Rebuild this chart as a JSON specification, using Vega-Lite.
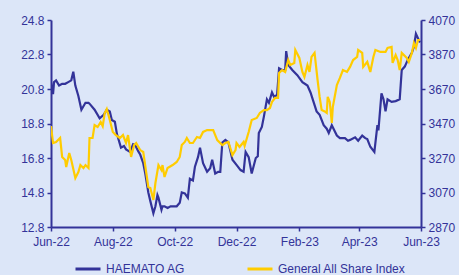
{
  "$schema": "https://vega.github.io/schema/vega-lite/v6.json",
  "width": 370,
  "height": 207,
  "autosize": {"type": "none"},
  "padding": {"left": 51, "top": 20, "right": 38, "bottom": 48},
  "background": "#DCE6F8",
  "config": {
    "view": {"stroke": null},
    "font": "Liberation Sans",
    "axis": {
      "domainColor": "#333399",
      "domainWidth": 2,
      "tickColor": "#333399",
      "tickWidth": 1.5,
      "tickSize": 4,
      "labelColor": "#333399",
      "labelFontSize": 12,
      "labelFont": "Liberation Sans",
      "grid": false,
      "title": null
    },
    "legend": {
      "labelColor": "#333399",
      "labelFontSize": 12,
      "labelFont": "Liberation Sans"
    }
  },
  "datasets": {
    "haemato": [
      {"date": "2022-06-01", "price": 21.2},
      {"date": "2022-06-03", "price": 20.5},
      {"date": "2022-06-04", "price": 21.2},
      {"date": "2022-06-06", "price": 21.3},
      {"date": "2022-06-09", "price": 21.0},
      {"date": "2022-06-12", "price": 21.1},
      {"date": "2022-06-15", "price": 21.1},
      {"date": "2022-06-18", "price": 21.2},
      {"date": "2022-06-21", "price": 21.3},
      {"date": "2022-06-23", "price": 21.8},
      {"date": "2022-06-25", "price": 21.0},
      {"date": "2022-06-28", "price": 20.4},
      {"date": "2022-07-01", "price": 19.6},
      {"date": "2022-07-05", "price": 20.0},
      {"date": "2022-07-08", "price": 20.0},
      {"date": "2022-07-09", "price": 19.95},
      {"date": "2022-07-14", "price": 19.6},
      {"date": "2022-07-19", "price": 19.1},
      {"date": "2022-07-23", "price": 19.3},
      {"date": "2022-07-26", "price": 19.6},
      {"date": "2022-07-29", "price": 19.5},
      {"date": "2022-07-31", "price": 19.0},
      {"date": "2022-08-03", "price": 18.9},
      {"date": "2022-08-05", "price": 18.2},
      {"date": "2022-08-09", "price": 17.4},
      {"date": "2022-08-12", "price": 17.5},
      {"date": "2022-08-14", "price": 17.3},
      {"date": "2022-08-18", "price": 17.15},
      {"date": "2022-08-21", "price": 17.6},
      {"date": "2022-08-23", "price": 17.55},
      {"date": "2022-08-26", "price": 17.2},
      {"date": "2022-08-28", "price": 17.0},
      {"date": "2022-08-31", "price": 16.5},
      {"date": "2022-09-02", "price": 15.9},
      {"date": "2022-09-05", "price": 14.8},
      {"date": "2022-09-07", "price": 14.3},
      {"date": "2022-09-10", "price": 13.6},
      {"date": "2022-09-12", "price": 14.0},
      {"date": "2022-09-14", "price": 14.65},
      {"date": "2022-09-15", "price": 14.5},
      {"date": "2022-09-18", "price": 13.8},
      {"date": "2022-09-19", "price": 14.0},
      {"date": "2022-09-21", "price": 14.0},
      {"date": "2022-09-24", "price": 13.9},
      {"date": "2022-09-27", "price": 14.0},
      {"date": "2022-09-30", "price": 14.0},
      {"date": "2022-10-03", "price": 14.0},
      {"date": "2022-10-06", "price": 14.2},
      {"date": "2022-10-08", "price": 14.8},
      {"date": "2022-10-11", "price": 14.75},
      {"date": "2022-10-14", "price": 14.5},
      {"date": "2022-10-16", "price": 15.6},
      {"date": "2022-10-19", "price": 15.5},
      {"date": "2022-10-21", "price": 16.3},
      {"date": "2022-10-24", "price": 16.85},
      {"date": "2022-10-26", "price": 17.4},
      {"date": "2022-10-29", "price": 16.5},
      {"date": "2022-11-02", "price": 16.0},
      {"date": "2022-11-05", "price": 16.2},
      {"date": "2022-11-07", "price": 16.7},
      {"date": "2022-11-10", "price": 15.9},
      {"date": "2022-11-13", "price": 16.0},
      {"date": "2022-11-15", "price": 16.0},
      {"date": "2022-11-17", "price": 17.7},
      {"date": "2022-11-20", "price": 17.85},
      {"date": "2022-11-23", "price": 17.7},
      {"date": "2022-11-27", "price": 16.7},
      {"date": "2022-12-01", "price": 16.4},
      {"date": "2022-12-05", "price": 16.1},
      {"date": "2022-12-08", "price": 16.0},
      {"date": "2022-12-10", "price": 17.15},
      {"date": "2022-12-13", "price": 16.85},
      {"date": "2022-12-16", "price": 15.9},
      {"date": "2022-12-20", "price": 16.8},
      {"date": "2022-12-22", "price": 16.9},
      {"date": "2022-12-23", "price": 18.25},
      {"date": "2022-12-26", "price": 18.6},
      {"date": "2022-12-28", "price": 19.2},
      {"date": "2022-12-31", "price": 20.2},
      {"date": "2023-01-02", "price": 20.0},
      {"date": "2023-01-05", "price": 20.6},
      {"date": "2023-01-07", "price": 20.35},
      {"date": "2023-01-10", "price": 20.45},
      {"date": "2023-01-12", "price": 22.0},
      {"date": "2023-01-15", "price": 21.9},
      {"date": "2023-01-18", "price": 21.9},
      {"date": "2023-01-19", "price": 23.0},
      {"date": "2023-01-21", "price": 22.2},
      {"date": "2023-01-25", "price": 21.9},
      {"date": "2023-01-30", "price": 21.6},
      {"date": "2023-02-04", "price": 21.2},
      {"date": "2023-02-09", "price": 21.0},
      {"date": "2023-02-12", "price": 20.6},
      {"date": "2023-02-15", "price": 20.05},
      {"date": "2023-02-18", "price": 19.5},
      {"date": "2023-02-21", "price": 19.3},
      {"date": "2023-02-25", "price": 18.7},
      {"date": "2023-02-28", "price": 18.5},
      {"date": "2023-03-02", "price": 18.25},
      {"date": "2023-03-05", "price": 18.7},
      {"date": "2023-03-10", "price": 18.1},
      {"date": "2023-03-13", "price": 17.95},
      {"date": "2023-03-18", "price": 17.95},
      {"date": "2023-03-21", "price": 17.8},
      {"date": "2023-03-23", "price": 17.85},
      {"date": "2023-03-28", "price": 18.0},
      {"date": "2023-03-31", "price": 17.8},
      {"date": "2023-04-04", "price": 18.1},
      {"date": "2023-04-07", "price": 17.95},
      {"date": "2023-04-09", "price": 17.9},
      {"date": "2023-04-12", "price": 17.45},
      {"date": "2023-04-16", "price": 17.15},
      {"date": "2023-04-19", "price": 18.7},
      {"date": "2023-04-20", "price": 18.4},
      {"date": "2023-04-23", "price": 20.55},
      {"date": "2023-04-25", "price": 20.2},
      {"date": "2023-04-27", "price": 19.5},
      {"date": "2023-04-29", "price": 20.2},
      {"date": "2023-05-03", "price": 20.05},
      {"date": "2023-05-07", "price": 20.1},
      {"date": "2023-05-11", "price": 20.2},
      {"date": "2023-05-13", "price": 21.9},
      {"date": "2023-05-16", "price": 22.1},
      {"date": "2023-05-19", "price": 22.5},
      {"date": "2023-05-23", "price": 22.9},
      {"date": "2023-05-25", "price": 23.25},
      {"date": "2023-05-27", "price": 24.0},
      {"date": "2023-05-29", "price": 23.75},
      {"date": "2023-05-31", "price": 23.5}
    ],
    "gasi": [
      {"date": "2022-06-01", "index": 3455},
      {"date": "2022-06-03", "index": 3357},
      {"date": "2022-06-06", "index": 3363},
      {"date": "2022-06-10", "index": 3386},
      {"date": "2022-06-12", "index": 3276},
      {"date": "2022-06-15", "index": 3258},
      {"date": "2022-06-16", "index": 3218},
      {"date": "2022-06-19", "index": 3299},
      {"date": "2022-06-21", "index": 3258},
      {"date": "2022-06-25", "index": 3154},
      {"date": "2022-06-28", "index": 3189},
      {"date": "2022-06-30", "index": 3229},
      {"date": "2022-07-03", "index": 3212},
      {"date": "2022-07-05", "index": 3229},
      {"date": "2022-07-08", "index": 3212},
      {"date": "2022-07-09", "index": 3386},
      {"date": "2022-07-12", "index": 3386},
      {"date": "2022-07-14", "index": 3461},
      {"date": "2022-07-17", "index": 3450},
      {"date": "2022-07-20", "index": 3479},
      {"date": "2022-07-22", "index": 3455},
      {"date": "2022-07-24", "index": 3531},
      {"date": "2022-07-26", "index": 3554},
      {"date": "2022-07-29", "index": 3490},
      {"date": "2022-08-01", "index": 3421},
      {"date": "2022-08-04", "index": 3403},
      {"date": "2022-08-08", "index": 3386},
      {"date": "2022-08-11", "index": 3403},
      {"date": "2022-08-14", "index": 3357},
      {"date": "2022-08-16", "index": 3403},
      {"date": "2022-08-19", "index": 3276},
      {"date": "2022-08-22", "index": 3345},
      {"date": "2022-08-24", "index": 3357},
      {"date": "2022-08-28", "index": 3316},
      {"date": "2022-08-31", "index": 3305},
      {"date": "2022-09-03", "index": 3183},
      {"date": "2022-09-05", "index": 3102},
      {"date": "2022-09-07", "index": 3096},
      {"date": "2022-09-10", "index": 3027},
      {"date": "2022-09-12", "index": 3125},
      {"date": "2022-09-15", "index": 3229},
      {"date": "2022-09-18", "index": 3200},
      {"date": "2022-09-19", "index": 3229},
      {"date": "2022-09-21", "index": 3160},
      {"date": "2022-09-24", "index": 3212},
      {"date": "2022-09-29", "index": 3229},
      {"date": "2022-10-03", "index": 3247},
      {"date": "2022-10-06", "index": 3276},
      {"date": "2022-10-08", "index": 3345},
      {"date": "2022-10-11", "index": 3363},
      {"date": "2022-10-13", "index": 3386},
      {"date": "2022-10-16", "index": 3357},
      {"date": "2022-10-19", "index": 3357},
      {"date": "2022-10-23", "index": 3392},
      {"date": "2022-10-26", "index": 3386},
      {"date": "2022-10-29", "index": 3421},
      {"date": "2022-11-02", "index": 3432},
      {"date": "2022-11-05", "index": 3432},
      {"date": "2022-11-08", "index": 3432},
      {"date": "2022-11-12", "index": 3374},
      {"date": "2022-11-17", "index": 3345},
      {"date": "2022-11-20", "index": 3357},
      {"date": "2022-11-23", "index": 3363},
      {"date": "2022-11-27", "index": 3287},
      {"date": "2022-11-30", "index": 3316},
      {"date": "2022-12-01", "index": 3357},
      {"date": "2022-12-04", "index": 3334},
      {"date": "2022-12-08", "index": 3363},
      {"date": "2022-12-09", "index": 3340},
      {"date": "2022-12-13", "index": 3421},
      {"date": "2022-12-16", "index": 3490},
      {"date": "2022-12-21", "index": 3502},
      {"date": "2022-12-24", "index": 3531},
      {"date": "2022-12-28", "index": 3548},
      {"date": "2022-12-31", "index": 3548},
      {"date": "2023-01-03", "index": 3560},
      {"date": "2023-01-05", "index": 3595},
      {"date": "2023-01-08", "index": 3618},
      {"date": "2023-01-11", "index": 3618},
      {"date": "2023-01-12", "index": 3763},
      {"date": "2023-01-15", "index": 3780},
      {"date": "2023-01-18", "index": 3769},
      {"date": "2023-01-21", "index": 3838},
      {"date": "2023-01-23", "index": 3809},
      {"date": "2023-01-27", "index": 3821},
      {"date": "2023-01-28", "index": 3896},
      {"date": "2023-02-01", "index": 3850},
      {"date": "2023-02-04", "index": 3769},
      {"date": "2023-02-06", "index": 3740},
      {"date": "2023-02-09", "index": 3809},
      {"date": "2023-02-11", "index": 3769},
      {"date": "2023-02-13", "index": 3856},
      {"date": "2023-02-16", "index": 3879},
      {"date": "2023-02-19", "index": 3722},
      {"date": "2023-02-21", "index": 3624},
      {"date": "2023-02-23", "index": 3548},
      {"date": "2023-02-26", "index": 3540},
      {"date": "2023-02-28", "index": 3531},
      {"date": "2023-03-01", "index": 3624},
      {"date": "2023-03-03", "index": 3595},
      {"date": "2023-03-05", "index": 3473},
      {"date": "2023-03-06", "index": 3566},
      {"date": "2023-03-10", "index": 3693},
      {"date": "2023-03-13", "index": 3734},
      {"date": "2023-03-16", "index": 3780},
      {"date": "2023-03-20", "index": 3769},
      {"date": "2023-03-23", "index": 3798},
      {"date": "2023-03-26", "index": 3838},
      {"date": "2023-03-30", "index": 3856},
      {"date": "2023-03-31", "index": 3896},
      {"date": "2023-04-04", "index": 3879},
      {"date": "2023-04-05", "index": 3798},
      {"date": "2023-04-09", "index": 3827},
      {"date": "2023-04-12", "index": 3769},
      {"date": "2023-04-15", "index": 3856},
      {"date": "2023-04-17", "index": 3896},
      {"date": "2023-04-22", "index": 3885},
      {"date": "2023-04-27", "index": 3885},
      {"date": "2023-04-29", "index": 3908},
      {"date": "2023-05-03", "index": 3914},
      {"date": "2023-05-04", "index": 3821},
      {"date": "2023-05-07", "index": 3867},
      {"date": "2023-05-09", "index": 3838},
      {"date": "2023-05-11", "index": 3780},
      {"date": "2023-05-13", "index": 3879},
      {"date": "2023-05-18", "index": 3850},
      {"date": "2023-05-20", "index": 3827},
      {"date": "2023-05-23", "index": 3879},
      {"date": "2023-05-25", "index": 3937},
      {"date": "2023-05-27", "index": 3908},
      {"date": "2023-05-29", "index": 3954},
      {"date": "2023-05-31", "index": 3954}
    ]
  },
  "layer": [
    {
      "data": {"name": "haemato"},
      "mark": {"type": "line", "strokeWidth": 2.2, "clip": true},
      "encoding": {
        "x": {
          "field": "date",
          "type": "temporal",
          "scale": {
            "type": "utc",
            "domain": [
              {"year": 2022, "month": 6, "date": 1, "utc": true},
              {"year": 2023, "month": 6, "date": 1, "utc": true}
            ],
            "nice": false
          },
          "axis": {
            "format": "%b-%y",
            "formatType": "time",
            "labelPadding": 5,
            "labelFlush": false,
            "labelOverlap": false,
            "values": [
              {"year": 2022, "month": 6, "date": 1, "utc": true},
              {"year": 2022, "month": 8, "date": 1, "utc": true},
              {"year": 2022, "month": 10, "date": 1, "utc": true},
              {"year": 2022, "month": 12, "date": 1, "utc": true},
              {"year": 2023, "month": 2, "date": 1, "utc": true},
              {"year": 2023, "month": 4, "date": 1, "utc": true},
              {"year": 2023, "month": 6, "date": 1, "utc": true}
            ]
          }
        },
        "y": {
          "field": "price",
          "type": "quantitative",
          "scale": {"domain": [12.8, 24.8], "nice": false, "zero": false},
          "axis": {
            "orient": "left",
            "values": [12.8, 14.8, 16.8, 18.8, 20.8, 22.8, 24.8],
            "format": ".1f",
            "labelPadding": 3,
            "labelFlush": false
          }
        },
        "color": {
          "datum": "HAEMATO AG",
          "type": "nominal",
          "scale": {
            "domain": ["HAEMATO AG", "General All Share Index"],
            "range": ["#333399", "#FFCC00"]
          },
          "legend": {
            "title": null,
            "orient": "none",
            "direction": "horizontal",
            "legendX": 23,
            "legendY": 235,
            "symbolType": "stroke",
            "symbolSize": 625,
            "symbolStrokeWidth": 3,
            "labelOffset": 4,
            "columnPadding": 56
          }
        }
      }
    },
    {
      "data": {"name": "gasi"},
      "mark": {"type": "line", "strokeWidth": 2.2, "clip": true},
      "encoding": {
        "x": {"field": "date", "type": "temporal"},
        "y": {
          "field": "index",
          "type": "quantitative",
          "scale": {"domain": [2870, 4070], "nice": false, "zero": false},
          "axis": {
            "orient": "right",
            "values": [2870, 3070, 3270, 3470, 3670, 3870, 4070],
            "format": "d",
            "labelPadding": 3,
            "labelFlush": false
          }
        },
        "color": {"datum": "General All Share Index", "type": "nominal"}
      }
    }
  ],
  "resolve": {"scale": {"y": "independent"}}
}
